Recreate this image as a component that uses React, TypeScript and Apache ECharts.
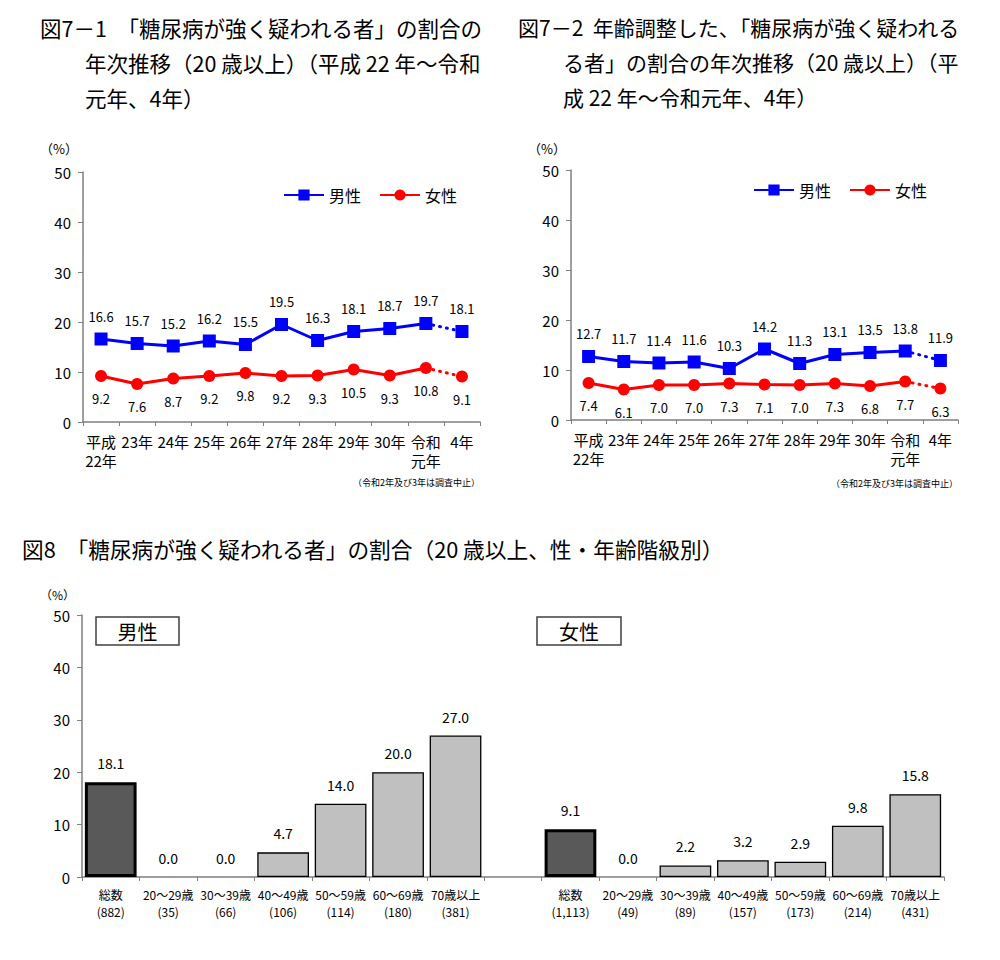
import React, { useEffect, useRef } from "react";
import * as echarts from "echarts";

const years = ["平成\n22年", "23年", "24年", "25年", "26年", "27年", "28年", "29年", "30年", "令和\n元年", "4年"];
const male71 = [16.6, 15.7, 15.2, 16.2, 15.5, 19.5, 16.3, 18.1, 18.7, 19.7, 18.1];
const female71 = [9.2, 7.6, 8.7, 9.2, 9.8, 9.2, 9.3, 10.5, 9.3, 10.8, 9.1];
const male72 = [12.7, 11.7, 11.4, 11.6, 10.3, 14.2, 11.3, 13.1, 13.5, 13.8, 11.9];
const female72 = [7.4, 6.1, 7.0, 7.0, 7.3, 7.1, 7.0, 7.3, 6.8, 7.7, 6.3];
const ageGroups = ["総数", "20～29歳", "30～39歳", "40～49歳", "50～59歳", "60～69歳", "70歳以上"];
const maleCounts = ["882", "35", "66", "106", "114", "180", "381"];
const femaleCounts = ["1,113", "49", "89", "157", "173", "214", "431"];
const maleBars = [18.1, 0.0, 0.0, 4.7, 14.0, 20.0, 27.0];
const femaleBars = [9.1, 0.0, 2.2, 3.2, 2.9, 9.8, 15.8];
const yMin = 0;
const yMax = 50;
const yStep = 10;

const FONT = '"Noto Sans CJK JP", "Noto Sans", sans-serif';
const LAST_SOLID = 9;

function lineSeries(name: string, values: number[], color: string, symbol: string, size: number, pos: string, gi: number) {
  const fmt = (p: any) => Number(p.value).toFixed(1);
  const label = { show: true, position: pos, distance: 10, fontSize: 13, color: "#000", fontFamily: FONT, formatter: fmt };
  const solid = {
    type: "line",
    name,
    xAxisIndex: gi,
    yAxisIndex: gi,
    data: values.map((v, i) => (i <= LAST_SOLID ? v : "-")),
    symbol,
    symbolSize: size,
    showAllSymbol: true,
    itemStyle: { color },
    lineStyle: { color, width: 3 },
    label,
    z: 3,
  };
  const dotted = {
    type: "line",
    name: name + "_d",
    xAxisIndex: gi,
    yAxisIndex: gi,
    data: values.map((v, i) =>
      i === LAST_SOLID ? { value: v, symbol: "none", label: { show: false } } : i > LAST_SOLID ? v : "-"
    ),
    symbol,
    symbolSize: size,
    showAllSymbol: true,
    itemStyle: { color },
    lineStyle: { color, width: 3, type: [1, 6], cap: "round" },
    label,
    z: 2,
  };
  return [solid, dotted];
}

function yAxis(gi: number) {
  return {
    type: "value",
    gridIndex: gi,
    min: yMin,
    max: yMax,
    interval: yStep,
    axisLine: { show: true, lineStyle: { color: "#7f7f7f", width: 1.5 } },
    axisTick: { show: true, length: 5, lineStyle: { color: "#7f7f7f" } },
    axisLabel: { fontSize: 15, color: "#000", fontFamily: FONT, margin: 12 },
    splitLine: { show: false },
  };
}

function catAxis(gi: number, data: string[], label: any) {
  return {
    type: "category",
    gridIndex: gi,
    data,
    boundaryGap: true,
    axisLine: { show: true, lineStyle: { color: "#7f7f7f", width: 1.5 } },
    axisTick: { show: true, length: 4, alignWithLabel: false, interval: 0, lineStyle: { color: "#7f7f7f" } },
    axisLabel: { interval: 0, color: "#000", fontFamily: FONT, ...label },
  };
}

function text(x: number, y: number, t: string, size: number, align = "left", weight = "normal") {
  return {
    type: "text",
    x,
    y,
    style: {
      text: t,
      fill: "#000",
      font: `${weight} ${size}px ${FONT}`,
      textAlign: align,
      textVerticalAlign: "middle",
    },
  };
}

export default function App() {
  const ref = useRef<HTMLDivElement>(null);
  useEffect(() => {
    if (!ref.current) return;
    const chart = echarts.init(ref.current, undefined, { renderer: "svg" });

    const barCats = [
      ...ageGroups.map((g, i) => `{a|${g}}\n{b|(${maleCounts[i]})}`),
      "",
      ...ageGroups.map((g, i) => `{a|${g}}\n{b|(${femaleCounts[i]})}`),
    ];
    const barItem = (v: number, i: number) => ({
      value: v,
      itemStyle:
        i === 0
          ? { color: "#595959", borderColor: "#000", borderWidth: 3 }
          : { color: "#c0c0c0", borderColor: "#000", borderWidth: v === 0 ? 0 : 1.3 },
    });
    const barData: any[] = [...maleBars.map(barItem), "-", ...femaleBars.map(barItem)];

    const legendCommon = {
      data: ["男性", "女性"],
      itemWidth: 40,
      itemHeight: 14,
      itemGap: 18,
      padding: 0,
      textStyle: { fontSize: 16, color: "#000", fontFamily: FONT },
      selectedMode: false,
    };

    const option: any = {
      animation: false,
      backgroundColor: "#fff",
      grid: [
        { left: 83, top: 172, width: 397, height: 250 },
        { left: 571, top: 170, width: 387, height: 250 },
        { left: 82, top: 615, width: 862, height: 262 },
      ],
      legend: [
        { ...legendCommon, left: 283, top: 187 },
        { ...legendCommon, left: 753, top: 182 },
      ],
      xAxis: [
        catAxis(0, years, { fontSize: 15, lineHeight: 19, margin: 10 }),
        catAxis(1, years, { fontSize: 15, lineHeight: 19, margin: 10 }),
        catAxis(2, barCats, {
          margin: 9,
          rich: {
            a: { fontSize: 12, lineHeight: 17, fontFamily: FONT, color: "#000" },
            b: { fontSize: 12, lineHeight: 17, fontFamily: FONT, color: "#000" },
          },
        }),
      ],
      yAxis: [yAxis(0), yAxis(1), yAxis(2)],
      series: [
        ...lineSeries("男性", male71, "#0000ff", "rect", 13, "top", 0),
        ...lineSeries("女性", female71, "#ff0000", "circle", 12, "bottom", 0),
        ...lineSeries("男性", male72, "#0000ff", "rect", 13, "top", 1),
        ...lineSeries("女性", female72, "#ff0000", "circle", 12, "bottom", 1),
        {
          type: "bar",
          name: "bars",
          xAxisIndex: 2,
          yAxisIndex: 2,
          data: barData,
          barCategoryGap: "10%",
          label: {
            show: true,
            position: "top",
            distance: 12,
            fontSize: 14,
            color: "#000",
            fontFamily: FONT,
            formatter: (p: any) => Number(p.value).toFixed(1),
          },
        },
      ],
      graphic: [
        text(40, 27, "図7－1　「糖尿病が強く疑われる者」の割合の", 21.5),
        text(85, 62, "年次推移（20 歳以上）（平成 22 年～令和", 21.5),
        text(85, 97, "元年、4年）", 21.5),
        text(518, 27, "図7－2  年齢調整した、「糖尿病が強く疑われる", 21),
        text(563, 62, "る者」の割合の年次推移（20 歳以上）（平", 21),
        text(563, 97, "成 22 年～令和元年、4年）", 21),
        text(22, 548, "図8　「糖尿病が強く疑われる者」の割合（20 歳以上、性・年齢階級別）", 21.7),
        text(40, 148, "（%）", 13),
        text(528, 148, "（%）", 13),
        text(40, 594, "（%）", 12),
        text(480, 482, "（令和2年及び3年は調査中止）", 9, "right"),
        text(958, 483, "（令和2年及び3年は調査中止）", 9, "right"),
        {
          type: "rect",
          shape: { x: 96, y: 617, width: 83, height: 28 },
          style: { fill: "#fff", stroke: "#404040", lineWidth: 1.5 },
        },
        text(137.5, 631, "男性", 20, "center"),
        {
          type: "rect",
          shape: { x: 537, y: 617, width: 84, height: 28 },
          style: { fill: "#fff", stroke: "#404040", lineWidth: 1.5 },
        },
        text(579, 631, "女性", 20, "center"),
      ],
    };
    chart.setOption(option);
    return () => chart.dispose();
  }, []);
  return (
    <div
      ref={ref}
      style={{ position: "absolute", left: 0, top: 0, width: 1000, height: 960, background: "#fff" }}
    />
  );
}
